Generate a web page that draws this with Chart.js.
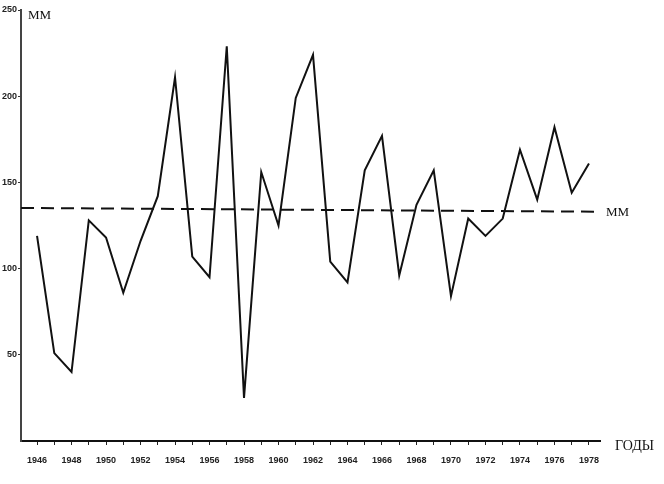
<!DOCTYPE html>
<html>
<head>
<meta charset="utf-8">
<script src="https://cdn.jsdelivr.net/npm/chart.js@4.4.1/dist/chart.umd.min.js"></script>
<style>
  html, body { margin: 0; padding: 0; background: #fff; }
  #wrap { width: 664px; height: 484px; position: relative; }
</style>
</head>
<body>
<div id="wrap"><canvas id="myChart" width="664" height="484"></canvas></div>
<script>
// years and precipitation values (mm)
var years = [1946, 1947, 1948, 1949, 1950, 1951, 1952, 1953, 1954, 1955, 1956,
             1957, 1958, 1959, 1960, 1961, 1962, 1963, 1964, 1965, 1966, 1967,
             1968, 1969, 1970, 1971, 1972, 1973, 1974, 1975, 1976, 1977, 1978];
var rainfall = [119, 51, 40, 128, 118, 86, 116, 142, 211, 107, 95,
                229, 25, 156, 125, 199, 224, 104, 92, 157, 177, 96,
                137, 157, 84, 129, 119, 129, 169, 140, 182, 144, 161];

// mean (norm) dashed line, start and end
var normYears = [1945.07, 1978.3];
var normValues = [135.2, 133];

var yTicks = [50, 100, 150, 200, 250];

var serif = '"Liberation Serif", "DejaVu Serif", serif';
var narrow = '"Liberation Sans Narrow", "Liberation Sans", Arial, sans-serif';

// extra labels: units at top, units next to the norm line, "ГОДЫ" at the x axis
var labelsPlugin = {
    id: 'labels',
    afterDraw: function (chart) {
        var c = chart.ctx;
        var x = chart.scales.x, y = chart.scales.y;
        c.save();
        c.fillStyle = '#111';
        c.font = '13px ' + serif;
        c.textBaseline = 'middle';
        c.textAlign = 'left';
        c.fillText('ММ', x.left + 7, y.getPixelForValue(250) + 6);
        c.fillText('ММ', x.right + 6, y.getPixelForValue(normValues[1]) + 1);
        c.font = '14px ' + serif;
        c.fillText('ГОДЫ', x.right + 15, y.bottom + 5);
        c.restore();
    }
};

var ctx = document.getElementById('myChart').getContext('2d');
var chart = new Chart(ctx, {
    type: 'line',
    data: {
        datasets: [{
            label: 'Осадки',
            data: years.map(function (yr, i) { return {x: yr, y: rainfall[i]}; }),
            borderColor: '#111',
            borderWidth: 2,
            pointRadius: 0,
            tension: 0,
            fill: false
        }, {
            label: 'Норма',
            data: normYears.map(function (yr, i) { return {x: yr, y: normValues[i]}; }),
            borderColor: '#111',
            borderWidth: 2,
            borderDash: [13, 7],
            pointRadius: 0,
            fill: false
        }]
    },
    options: {
        responsive: false,
        animation: false,
        devicePixelRatio: 1,
        layout: { padding: { top: 10, right: 64, left: 0, bottom: 0 } },
        plugins: { legend: { display: false }, tooltip: { enabled: false } },
        scales: {
            x: {
                type: 'linear',
                min: 1945.07,
                max: 1978.64,
                afterBuildTicks: function (scale) {
                    scale.ticks = years.map(function (v) { return {value: v}; });
                },
                afterFit: function (scale) { scale.height = 43; },
                grid: { drawOnChartArea: false, drawTicks: true, tickLength: 4, color: '#222', lineWidth: 1 },
                border: { display: true, color: '#111', width: 2 },
                ticks: {
                    autoSkip: false,
                    maxRotation: 0,
                    padding: 10,
                    color: '#222',
                    font: { size: 9, family: narrow, weight: 'bold' },
                    callback: function (v) { return v % 2 === 0 ? String(v) : ''; }
                }
            },
            y: {
                min: 0,
                max: 250,
                afterBuildTicks: function (scale) {
                    scale.ticks = yTicks.map(function (v) { return {value: v}; });
                },
                afterFit: function (scale) { scale.width = 21; },
                grid: { drawOnChartArea: false, drawTicks: true, tickLength: 3, color: '#333' },
                border: { display: true, color: '#444', width: 2 },
                ticks: {
                    padding: 1,
                    color: '#222',
                    font: { size: 9, family: narrow, weight: 'bold' }
                }
            }
        }
    },
    plugins: [labelsPlugin]
});
</script>
</body>
</html>
